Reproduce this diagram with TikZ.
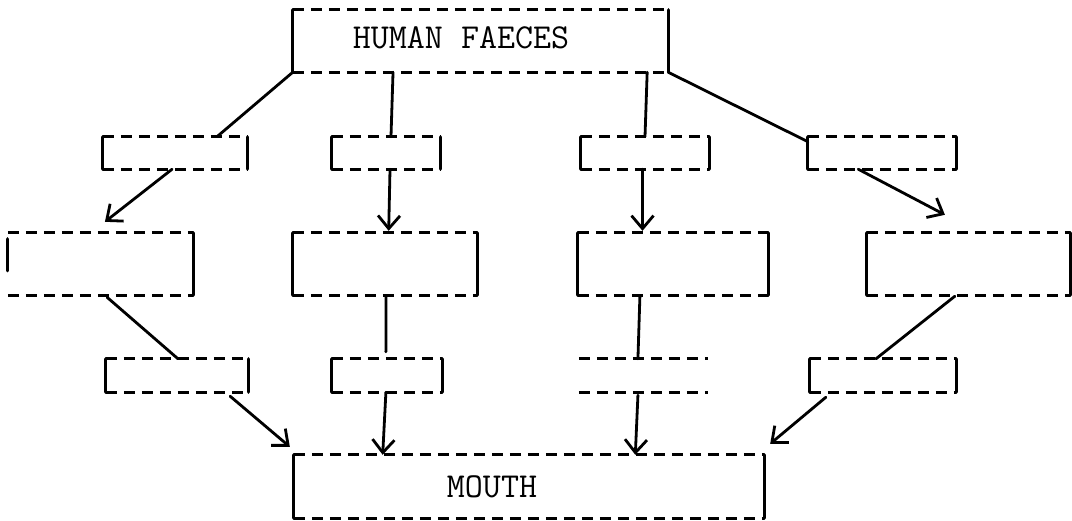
\documentclass[tikz,border=0pt]{standalone}
\usetikzlibrary{calc,arrows.meta}
\begin{document}
\begin{tikzpicture}[x=1pt,y=-1pt,
  box/.style={rectangle,inner sep=0pt,draw=none},
  dashline/.style={line width=3pt,dash pattern=on 11pt off 7pt},
  sideline/.style={line width=3.2pt,line cap=round},
  conn/.style={line width=2.8pt,line cap=round},
  arr/.style={conn,-{Straight Barb[length=13pt,width=22pt,line width=2.8pt]}},
  lbl/.style={font=\ttfamily\fontsize{35}{40}\selectfont,inner sep=0pt}]
\useasboundingbox (0,0) rectangle (1072,520);
\newcommand\dashedges[1]{\draw[dashline] (#1.north west) -- (#1.north east);
  \draw[dashline] (#1.south west) -- (#1.south east);}
\newcommand\solidsides[1]{\draw[sideline] (#1.north west) -- (#1.south west);
  \draw[sideline] (#1.north east) -- (#1.south east);}
% nodes
\node[box,minimum width=375pt,minimum height=62pt] (top) at (480.5,41) {};
\node[lbl] (toptext) at (461,38) {HUMAN FAECES};
\node[box,minimum width=144pt,minimum height=32pt] (A1) at (175,153) {};
\node[box,minimum width=108pt,minimum height=32pt] (B1) at (386,153) {};
\node[box,minimum width=128pt,minimum height=32pt] (C1) at (645,153) {};
\node[box,minimum width=148pt,minimum height=32pt] (D1) at (882,153) {};
\node[box,minimum width=185pt,minimum height=62pt] (A2) at (100.5,264) {};
\node[box,minimum width=184pt,minimum height=62pt] (B2) at (385,264) {};
\node[box,minimum width=190pt,minimum height=62pt] (C2) at (673,264) {};
\node[box,minimum width=203pt,minimum height=62pt] (D2) at (968.5,264) {};
\node[box,minimum width=142pt,minimum height=33pt] (A3) at (177,375.5) {};
\node[box,minimum width=110pt,minimum height=33pt] (B3) at (387,375.5) {};
\node[box,minimum width=129pt,minimum height=33pt] (C3) at (643.5,375.5) {};
\node[box,minimum width=146pt,minimum height=33pt] (D3) at (883,375.5) {};
\node[box,minimum width=470pt,minimum height=63pt] (M) at (529,486.5) {};
\node[lbl] (mtext) at (492,487) {MOUTH};
% box outlines
\foreach \n in {top,A1,B1,C1,D1,A2,B2,C2,D2,A3,B3,C3,D3,M}{\dashedges{\n}}
\foreach \n in {top,A1,B1,C1,D1,B2,C2,D2,A3,B3,D3,M}{\solidsides{\n}}
\draw[sideline] (A2.north east) -- (A2.south east);
\draw[sideline] ($(A2.north west)+(0,6)$) -- ($(A2.north west)+(0,38)$);
% connectors from top
\draw[conn] (top.south west) -- ($(A1.north west)!0.79!(A1.north east)$);
\draw[conn] ($(top.south west)!0.267!(top.south east)$) -- ($(B1.north west)!0.546!(B1.north east)$);
\draw[conn] ($(top.south west)!0.944!(top.south east)$) -- ($(C1.north west)!0.5!(C1.north east)$);
\draw[conn] (top.south east) -- ($(D1.north west)!0.15!(D1.south west)$);
% row 1 to row 2
\draw[arr] ($(A1.south west)!0.48!(A1.south east)$) -- ($(A2.north west)!0.524!(A2.north east)+(0,-11)$);
\draw[arr] ($(B1.south west)!0.537!(B1.south east)$) -- ($(B2.north west)!0.52!(B2.north east)+(0,-2)$);
\draw[arr] ($(C1.south west)!0.48!(C1.south east)$) -- ($(C2.north west)!0.34!(C2.north east)+(0,-2)$);
\draw[arr] ($(D1.south west)!0.34!(D1.south east)$) -- ($(D2.north west)!0.384!(D2.north east)+(0,-18)$);
% row 2 to row 3
\draw[conn] ($(A2.south west)!0.535!(A2.south east)+(0,2)$) -- ($(A3.north west)!0.507!(A3.north east)$);
\draw[conn] ($(B2.south west)!0.505!(B2.south east)+(0,2)$) -- ($(B3.north west)!0.49!(B3.north east)+(0,-7)$);
\draw[conn] ($(C2.south west)!0.326!(C2.south east)+(0,2)$) -- ($(C3.north west)!0.457!(C3.north east)$);
\draw[conn] ($(D2.south west)!0.433!(D2.south east)+(0,1)$) -- ($(D3.north west)!0.452!(D3.north east)$);
% row 3 to mouth
\draw[arr] ($(A3.south west)!0.873!(A3.south east)+(0,4)$) -- ($(M.north west)+(-4,-8)$);
\draw[arr] ($(B3.south west)!0.49!(B3.south east)$) -- ($(M.north west)!0.189!(M.north east)$);
\draw[arr] ($(C3.south west)!0.457!(C3.south east)+(0,3)$) -- ($(M.north west)!0.726!(M.north east)$);
\draw[arr] ($(D3.south west)!0.11!(D3.south east)+(0,5)$) -- ($(M.north east)+(6,-11)$);
\end{tikzpicture}
\end{document}
